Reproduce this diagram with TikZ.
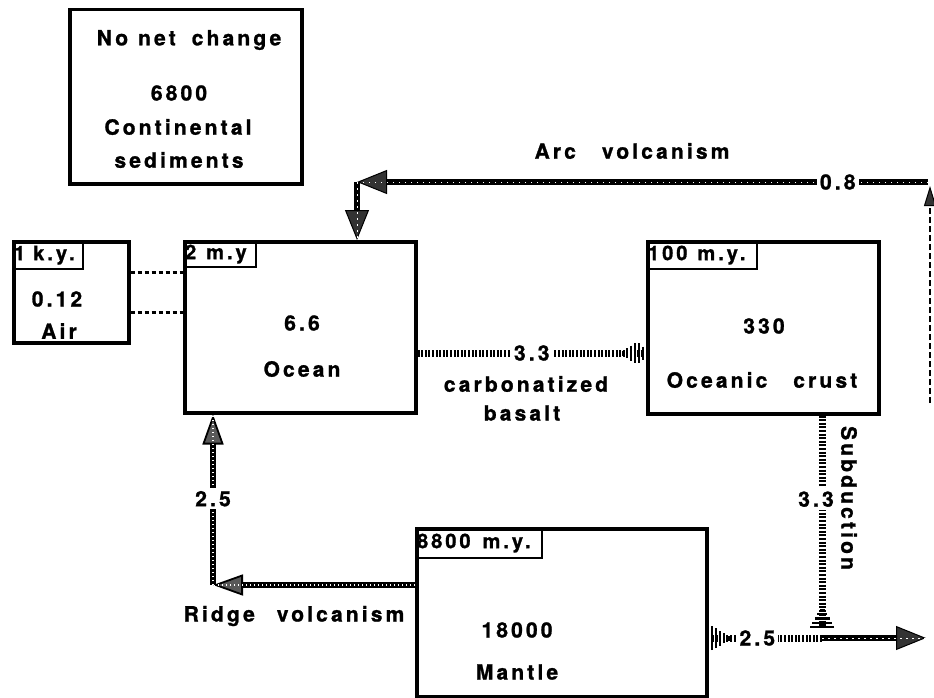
\documentclass[tikz,border=0pt]{standalone}
\usepackage{fontspec}
\newfontfamily\hv{texgyreheros}[Extension=.otf, UprightFont=*-bold, BoldFont=*-bold, LetterSpace=15, FakeBold=1.2]
\usetikzlibrary{arrows.meta}
\begin{document}
\begin{tikzpicture}[x=1pt,y=-1pt,
  txt/.style={font=\hv\fontsize{21}{23}\selectfont, inner sep=1pt},
  box/.style={draw, line width=3.5pt, anchor=north west, inner sep=0pt},
  tag/.style={draw, line width=2.2pt, anchor=north west, inner xsep=1pt, inner ysep=0pt, align=left, font=\hv\fontsize{20}{21}\selectfont},
  flowlab/.style={txt, fill=white, inner sep=3pt},
  tickline/.style={line width=7pt, dash pattern=on 2pt off 1.6pt},
  chainline/.style={line width=5.5pt, postaction={draw=white, line width=1pt, dash pattern=on 1.5pt off 4.5pt, -}},
  ridgeline/.style={line width=6pt, postaction={draw=white, line width=1.2pt, dash pattern=on 1pt off 3pt, -}},
  airline/.style={line width=3pt, dash pattern=on 4pt off 3pt},
  darkhead/.tip={Triangle[width=24pt,length=30pt,fill=black!80,line width=1pt]},
  ridgehead/.tip={Triangle[width=21pt,length=30pt,fill=black!65,line width=1.8pt]},
  sidehead/.tip={Triangle[width=12pt,length=20pt,fill=black!80,line width=1pt]},
  barhead/.tip={Bar[width=5pt,line width=2.2pt,sep=2pt]Bar[width=10pt,line width=2.2pt,sep=2pt]Bar[width=15pt,line width=2.2pt,sep=2pt]Bar[width=20pt,line width=2.2pt,sep=2pt]Bar[width=24pt,line width=2.2pt,sep=2pt]},
  crusthead/.tip={Bar[width=5pt,line width=2pt,sep=2pt]Bar[width=10pt,line width=2pt,sep=2pt]Bar[width=15pt,line width=2pt,sep=2pt]Bar[width=20pt,line width=2pt,sep=2pt]Bar[width=20pt,line width=2pt,sep=2pt]Bar[width=13pt,line width=2pt,sep=2pt]}
]
\useasboundingbox (0,0) rectangle (934,698);

% boxes
\node[box, minimum width=232pt, minimum height=174pt] (cont) at (68,8) {};
\node[box, minimum width=115pt, minimum height=101pt] (air) at (12,240) {};
\node[box, minimum width=231pt, minimum height=171pt] (ocean) at (183,240) {};
\node[box, minimum width=231pt, minimum height=172pt] (crust) at (646,240) {};
\node[box, minimum width=290pt, minimum height=168pt] (mantle) at (415,527) {};

% residence time tags
\node[tag, text width=68pt, minimum height=28pt] (airtag) at (12,240) {1\hspace{8pt}k.y.};
\node[tag, text width=70pt, minimum height=26pt] (oceantag) at (183,240) {2\hspace{10pt}m.y};
\node[tag, text width=108pt, minimum height=28pt] (crusttag) at (646,240) {100\hspace{10pt}m.y.};
\node[tag, text width=124pt, minimum height=30pt] (mantletag) at (415,527) {8800\hspace{12pt}m.y.};

% box texts
\node[txt] (conttitle) at (189,40) {No\hspace{10pt}net\hspace{16pt}change};
\node[txt] (contval) at (179,93) {6800};
\node[txt] (contname) at (178,127) {Continental};
\node[txt] (contname2) at (179,160) {sediments};
\node[txt] (airval) at (57,299) {0.12};
\node[txt] (airname) at (59,331) {Air};
\node[txt] (oceanval) at (302,323) {6.6};
\node[txt] (oceanname) at (302,369) {Ocean};
\node[txt] (crustval) at (764,326) {330};
\node[txt] (crustname) at (762,380) {Oceanic\hspace{26pt}crust};
\node[txt] (mantleval) at (517,630) {18000};
\node[txt] (mantlename) at (517,672) {Mantle};

% flow labels
\node[txt] (arclab) at (632,151) {Arc\hspace{26pt}volcanism};
\node[txt] (ridgelab) at (294,616) {Ridge\hspace{22pt}volcanism};
\node[txt] (carb) at (526,384) {carbonatized};
\node[txt] (bas) at (522,413) {basalt};
\node[txt, rotate=-90] (subd) at (849,498) {Subduction};

% helper coordinates
\coordinate (a1) at (0,272);
\coordinate (a2) at (0,312);
\coordinate (yc) at (0,353);
\coordinate (arcR) at (928,182);
\coordinate (arcC) at (357,182);
\coordinate (junc) at (822,638);
\coordinate (eastend) at (926,638);
\coordinate (rbot) at (930,403);
\coordinate (rtop) at (930,186);
\coordinate (rc) at (213,585);
\coordinate (ry) at (0,585);

% air <-> ocean
\draw[airline] (air.east |- a1) -- (ocean.west |- a1);
\draw[airline] (air.east |- a2) -- (ocean.west |- a2);

% ocean -> crust
\draw[tickline, -{crusthead}] (ocean.east |- yc) -- node[flowlab]{3.3} (crust.west |- yc);

% subduction
\draw[tickline, -{barhead}] (crust.south -| junc) -- node[flowlab, pos=0.39, xshift=-6pt]{3.3} ([yshift=8pt]junc);

% into mantle
\draw[tickline, -{barhead}] (junc) -- node[flowlab, pos=0.57]{2.5} (mantle.east |- junc);

% to arc volcanism
\draw[chainline, -{darkhead}] (junc) -- (eastend);
\draw[line width=1.3pt, dash pattern=on 6pt off 3pt, -{sidehead}] (rbot) -- (rtop);
\draw[chainline, -{darkhead}] (arcR) -- node[flowlab, pos=0.158]{0.8} (arcC);
\draw[chainline, -{darkhead}] (arcC) -- (ocean.north -| arcC);

% ridge volcanism
\draw[ridgeline, -{ridgehead}] (mantle.west |- ry) -- (rc);
\draw[ridgeline, -{ridgehead}] (rc) -- node[flowlab, pos=0.506]{2.5} (ocean.south -| rc);
\end{tikzpicture}
\end{document}
